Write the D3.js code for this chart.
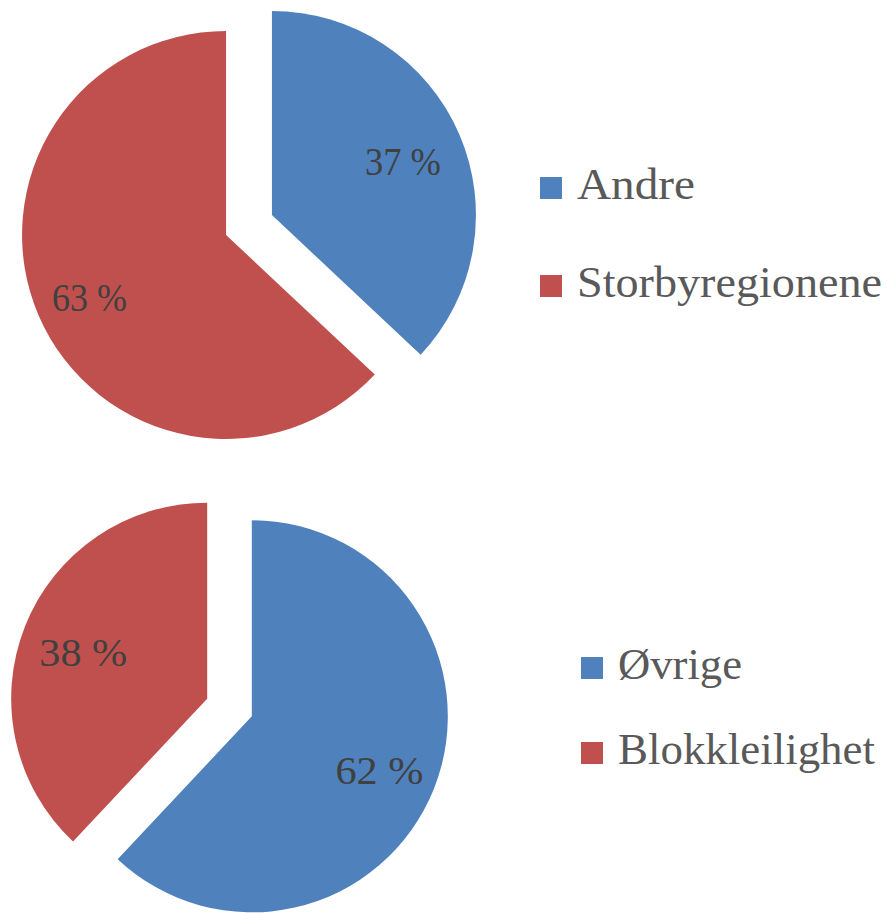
<!DOCTYPE html>
<html><head><meta charset="utf-8">
<script src="https://cdn.jsdelivr.net/npm/d3@7"></script>
<style>html,body{margin:0;padding:0;background:#fff;}</style>
</head><body>
<svg id="c" width="891" height="913"></svg>
<script>
const topCategories = ["Andre", "Storbyregionene"];
const topValues = [37, 63];
const topLabels = ["37 %", "63 %"];
const bottomCategories = ["Øvrige", "Blokkleilighet"];
const bottomValues = [62, 38];
const bottomLabels = ["62 %", "38 %"];
const colors = ["#4F81BD", "#C0504D"];

const svg = d3.select("#c");
const font = "'Liberation Serif', 'DejaVu Serif', serif";

function drawPie(cfg) {
  const data = cfg.values.map((v, i) => ({v, i, cat: cfg.cats[i], lab: cfg.labels[i]}));
  const pie = d3.pie().value(d => d.v).sort(null);
  const arcs = pie(data);
  const arc = d3.arc().innerRadius(0).outerRadius(cfg.r);
  const g = svg.append("g").attr("transform", `translate(${cfg.cx},${cfg.cy})`);
  arcs.forEach((a, k) => {
    const mid = (a.startAngle + a.endAngle) / 2;
    const dx = Math.sin(mid) * cfg.off, dy = -Math.cos(mid) * cfg.off;
    const sg = g.append("g").attr("transform", `translate(${dx},${dy})`);
    sg.append("path").attr("d", arc(a)).attr("fill", colors[a.data.i]);
    const lr = cfg.r * cfg.lr[k];
    const c = d3.arc().innerRadius(lr).outerRadius(lr).centroid(a);
    sg.append("text").attr("x", c[0]).attr("y", c[1])
      .attr("text-anchor", "middle").attr("dy", "0.42em")
      .attr("font-family", font).attr("font-size", 40)
      .attr("fill", "#404040")
      .attr("textLength", cfg.labW[k]).attr("lengthAdjust", "spacingAndGlyphs")
      .text(a.data.lab);
  });
  cfg.cats.forEach((c, i) => {
    svg.append("rect").attr("x", cfg.lx).attr("y", cfg.ly[i]).attr("width", 22).attr("height", 22)
      .attr("fill", colors[i]);
    svg.append("text").attr("x", cfg.lx + 37).attr("y", cfg.ly[i] + 22)
      .attr("font-family", font).attr("font-size", 44).attr("fill", "#595959")
      .attr("textLength", cfg.legW[i]).attr("lengthAdjust", "spacingAndGlyphs")
      .text(c);
  });
}

drawPie({cats: topCategories, values: topValues, labels: topLabels,
  cx: 249, cy: 225, r: 204, off: 25, lr: [0.70, 0.73], labW: [76, 75],
  lx: 540, ly: [177, 275], legW: [118, 305]});
drawPie({cats: bottomCategories, values: bottomValues, labels: bottomLabels,
  cx: 229.5, cy: 707.5, r: 196, off: 24, lr: [0.70, 0.68], labW: [88, 88],
  lx: 581, ly: [657, 742], legW: [124, 257]});
</script>
</body></html>
